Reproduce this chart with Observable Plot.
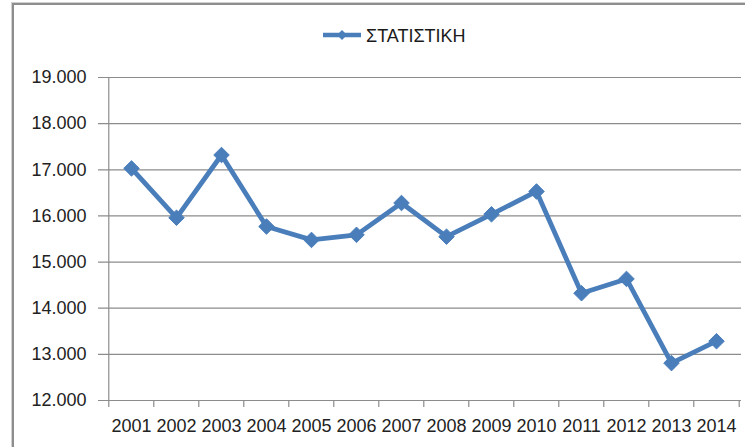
<!DOCTYPE html>
<html>
<head>
<meta charset="utf-8">
<script src="https://cdn.jsdelivr.net/npm/d3@7"></script>
<script src="https://cdn.jsdelivr.net/npm/@observablehq/plot@0.6"></script>
<style>
  html, body { margin: 0; padding: 0; background: #fff; }
  #wrap { position: relative; width: 745px; height: 447px; overflow: hidden; background: #fff; font-family: "Liberation Sans", Arial, sans-serif; }
  #frame { position: absolute; left: 12px; top: 3px; right: -20px; bottom: -20px; border: 2px solid #8e8e8e; box-shadow: -1px -1px 0 #d0d0d0; }
  #legend { position: absolute; left: 322px; top: 26px; font-size: 18px; color: #1a1a1a; white-space: nowrap; }
  #legend svg { vertical-align: middle; margin-right: 4px; position: relative; top: -2px; }
  #chart { position: absolute; left: 0; top: 0; }
</style>
</head>
<body>
<div id="wrap">
  <div id="frame"></div>
  <div id="chart"></div>
  <div id="legend"></div>
</div>
<script>
const years = ["2001","2002","2003","2004","2005","2006","2007","2008","2009","2010","2011","2012","2013","2014"];
const values = [17030, 15960, 17320, 15770, 15480, 15590, 16280, 15550, 16035, 16530, 14325, 14635, 12810, 13285];
const yTicks = [12000, 13000, 14000, 15000, 16000, 17000, 18000, 19000];
const seriesName = "ΣΤΑΤΙΣΤΙΚΗ";

const data = years.map((year, i) => ({year, value: values[i]}));

const W = 745, H = 447, mL = 105, mR = 4, mT = 77, mB = 47;
const step = (W - mL - mR) / years.length;
const lineColor = "#4a7ebb";
const gridColor = "#8c8c8c";

const fmt = d3.formatLocale({decimal: ",", thousands: ".", grouping: [3], currency: ["", "€"]}).format(",");

const chart = Plot.plot({
  width: W, height: H,
  marginLeft: mL, marginRight: mR, marginTop: mT, marginBottom: mB,
  style: {fontFamily: "'Liberation Sans', Arial, sans-serif", fontSize: "18px", color: "#222", background: "transparent", overflow: "visible"},
  x: {type: "point", domain: years, padding: 0.5, tickSize: 0, tickPadding: 19, label: null},
  y: {domain: [12000, 19000], ticks: yTicks, tickFormat: fmt, tickSize: 0, tickPadding: 19, label: null},
  marks: [
    Plot.ruleY(yTicks, {stroke: gridColor, strokeWidth: 1.2, insetLeft: -7}),
    Plot.ruleX([years[0]], {dx: -step / 2, stroke: gridColor, strokeWidth: 1.2}),
    Plot.ruleX(years, {x: d => d, y1: 12000, y2: 12000, insetBottom: -7, dx: -step / 2, stroke: gridColor, strokeWidth: 1.2}),
    Plot.ruleX([years[years.length - 1]], {x: d => d, y1: 12000, y2: 12000, insetBottom: -7, dx: step / 2, stroke: gridColor, strokeWidth: 1.2}),
    Plot.line(data, {x: "year", y: "value", stroke: lineColor, strokeWidth: 4.8, strokeLinejoin: "round"}),
    Plot.dot(data, {x: "year", y: "value", symbol: "diamond2", r: 7, fill: lineColor, stroke: lineColor, strokeWidth: 1})
  ]
});
document.getElementById("chart").appendChild(chart);

// legend
const lg = document.getElementById("legend");
const sw = d3.create("svg").attr("width", 40).attr("height", 16);
sw.append("line").attr("x1", 1).attr("x2", 39).attr("y1", 8).attr("y2", 8).attr("stroke", lineColor).attr("stroke-width", 4.5);
sw.append("path").attr("d", "M20,3L25,8L20,13L15,8Z").attr("fill", lineColor);
lg.appendChild(sw.node());
const span = document.createElement("span");
span.textContent = seriesName;
lg.appendChild(span);
</script>
</body>
</html>
